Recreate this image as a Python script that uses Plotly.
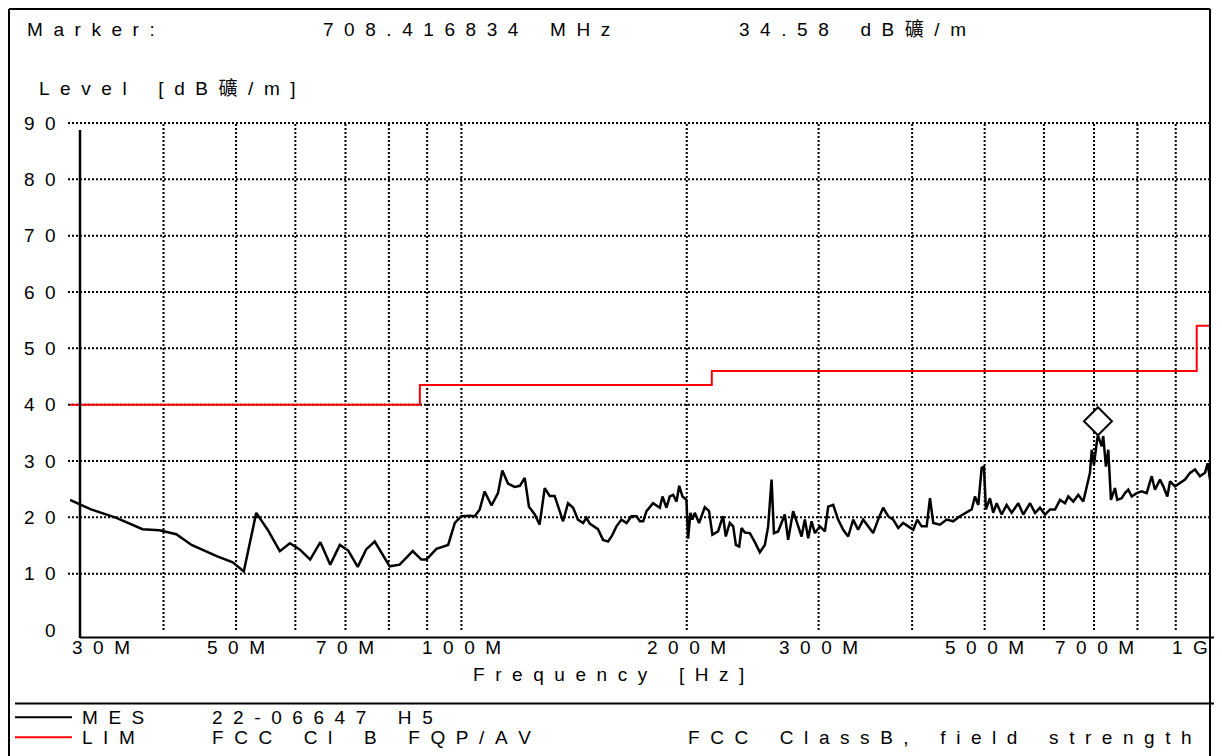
import math
import plotly.graph_objects as go

# ---------------- data ----------------
freq_mhz = [
    30.0, 31.0, 32.0, 34.6, 37.5, 39.5, 41.6, 43.6, 47.1, 49.5, 51.2, 53.2, 55.1, 57.2, 59.0,
    60.8, 62.8, 64.8, 66.8, 68.8, 70.6, 72.7, 74.6, 76.6, 80.2, 82.7, 86.1, 88.4, 89.8, 92.6,
    96.0, 98.0, 100.0,
    102.6, 104.2, 105.8, 107.4, 109.7, 111.9, 113.4, 115.4, 117.8, 119.7, 121.5, 123.1, 125.3,
    127.2, 129.2, 131.2, 133.2, 136.7, 138.8, 141.0, 143.1, 145.4, 146.9, 148.4, 152.2, 154.6,
    157.0, 158.7, 161.1, 163.6, 166.2, 168.7, 171.4, 173.1, 174.9, 176.7, 180.3, 184.1, 185.6,
    187.9, 189.8, 191.8, 193.8, 195.4, 197.4, 199.8, 200.8, 202.3, 203.5, 205.0, 207.7, 211.4,
    214.2, 216.4, 220.2, 223.6, 225.5, 228.3, 230.7, 232.6, 235.0, 236.7, 239.1, 242.8, 246.6,
    250.4, 254.3, 256.9, 259.6, 261.5, 264.9, 270.4, 273.2, 277.4, 281.8, 284.7, 287.6, 290.6,
    293.6, 296.6, 301.2, 305.9, 309.0, 313.8, 318.6,
    323.6, 328.6, 333.7, 338.8, 344.1, 349.4, 354.8, 360.3, 365.9, 371.6, 377.4, 383.3, 389.2,
    395.3, 401.4, 406.4, 411.9, 418.3, 422.6, 426.9, 435.8, 444.9, 453.9, 463.4, 473.0, 480.4,
    485.3, 490.3, 495.4, 498.9, 502.0, 508.2, 513.4, 518.8, 526.8, 535.0, 543.3, 554.5, 563.1,
    574.9, 583.8, 592.8, 602.0, 611.4, 620.9, 630.4, 640.2, 646.7, 656.8, 666.8, 677.2, 684.3,
    691.3, 695.0, 699.8, 705.7, 708.4, 716.6, 720.1, 726.1, 731.3, 737.4, 746.5, 751.8, 762.1,
    769.9, 777.7, 786.0, 798.0, 810.4, 823.0, 835.8, 844.3, 857.4, 866.2, 877.0, 884.4, 898.0,
    912.0, 926.1, 940.4, 955.0, 969.7, 984.7, 992.9, 1000.0,
]
level_dbuv_m = [
    23.1, 22.2, 21.4, 19.9, 17.9, 17.7, 17.0, 15.1, 13.1, 12.0, 10.4, 20.8, 17.8, 14.0, 15.4,
    14.3, 12.5, 15.6, 11.6, 15.1, 14.1, 11.2, 14.3, 15.7, 11.3, 11.6, 14.0, 12.5, 12.5, 14.4,
    15.1, 19.0, 20.2,
    20.3, 20.2, 21.4, 24.6, 22.1, 24.3, 28.3, 26.0, 25.4, 25.6, 27.0, 21.9, 20.5,
    18.7, 25.2, 23.8, 23.8, 19.3, 22.5, 21.7, 19.6, 19.0, 19.9, 18.9, 17.9, 16.0,
    15.7, 16.6, 18.4, 19.6, 19.0, 20.2, 20.2, 19.3, 19.3, 21.1, 22.5, 21.7, 23.7,
    21.7, 23.7, 24.0, 22.8, 25.6, 23.7, 23.1, 16.2, 20.8, 19.6, 20.8, 19.0, 21.8,
    21.1, 16.9, 17.5, 20.2, 16.6, 19.0, 18.4, 15.1, 14.8, 18.1, 17.3, 17.2, 15.6,
    13.8, 15.1, 18.4, 26.7, 17.2, 17.5, 20.5, 16.0, 21.1, 18.4, 16.6, 19.6, 16.3,
    19.3, 17.2, 18.4, 17.5, 21.9, 22.2, 19.6,
    17.8, 16.6, 19.6, 17.8, 19.6, 18.4, 17.2, 19.6, 21.7, 20.2, 19.6, 18.1, 19.0,
    18.4, 17.8, 19.6, 18.4, 18.4, 23.4, 19.0, 18.7, 19.6, 19.3, 20.2, 20.8, 21.4,
    23.7, 22.2, 28.8, 29.0, 21.4, 23.4, 20.8, 22.5, 20.5, 22.2, 20.8, 22.5, 20.5,
    22.5, 20.8, 21.7, 20.5, 21.4, 21.4, 23.1, 22.5, 23.7, 22.8, 24.0, 22.8, 25.2,
    27.9, 32.0, 29.3, 33.2, 34.58, 32.6, 34.4, 29.0, 32.0, 23.1, 25.2, 23.1, 23.4,
    24.3, 24.9, 23.7, 24.3, 24.6, 24.3, 27.3, 24.9, 26.7, 25.5, 23.7, 26.4, 25.5,
    26.1, 26.7, 27.9, 28.5, 27.3, 27.9, 29.6, 26.7,
]
limit_freq_mhz = [30, 88, 216, 960, 1000]
limit_level = [40, 43.5, 46, 54, 54]

marker_freq_mhz = 708.416834
marker_level = 34.58

y_tick_vals = [0, 10, 20, 30, 40, 50, 60, 70, 80, 90]
y_grid_vals = [10, 20, 30, 40, 50, 60, 70, 80, 90]
x_tick_vals = [30, 50, 70, 100, 200, 300, 500, 700, 1000]
x_tick_text = ["30M", "50M", "70M", "100M", "200M", "300M", "500M", "700M", "1G"]
x_grid_vals = [40, 50, 60, 70, 80, 90, 100, 200, 300, 400, 500, 600, 700, 800, 900]

header_marker = "Marker:"
header_freq = "708.416834 MHz"
header_level = "34.58 dB礦/m"
y_title = "Level [dB礦/m]"
x_title = "Frequency [Hz]"
legend_rows = [("MES", "22-06647 H5", ""),
               ("LIM", "FCC Cl B FQP/AV", "FCC ClassB, field strength")]
legend_colors = ["black", "#ff0000"]

# ---------------- layout geometry (page pixels) ----------------
PAGE_W, PAGE_H = 1222, 756
OFF = 8                      # default body margin of the html page
W, H = PAGE_W - OFF, PAGE_H - OFF
L, R, T, B = 70, 1210, 121, 638   # plot area in page pixels
FONT = "Liberation Sans, Arial, Noto Sans CJK SC, sans-serif"
FS = 19


def px(x):
    return (x - L) / (R - L)


def py(y):
    return (B - y) / (B - T)


def spaced(s):
    gap = "\u00a0\u00a0"
    return gap.join("\u00a0\u00a0" if ch == " " else ch for ch in s)


fig = go.Figure()

fig.add_trace(go.Scatter(x=limit_freq_mhz, y=limit_level, mode="lines",
                         line=dict(color="#ff0000", width=2, shape="hv"),
                         hoverinfo="skip", showlegend=False))
fig.add_trace(go.Scatter(x=freq_mhz, y=level_dbuv_m, mode="lines",
                         line=dict(color="black", width=2.5),
                         showlegend=False))

shapes = []
dot = "2px,2px"
for v in y_grid_vals:
    shapes.append(dict(type="line", xref="paper", yref="y", x0=px(68), x1=1, y0=v, y1=v,
                       line=dict(color="black", width=2, dash=dot), layer="below"))
for v in x_grid_vals:
    shapes.append(dict(type="line", xref="x", yref="y", x0=v, x1=v, y0=0, y1=90,
                       line=dict(color="black", width=2, dash=dot), layer="below"))

# axis lines
shapes.append(dict(type="line", xref="paper", yref="paper", x0=px(80), x1=px(80),
                   y0=py(130), y1=py(638), line=dict(color="black", width=2.5)))
shapes.append(dict(type="line", xref="paper", yref="paper", x0=px(80), x1=px(1222),
                   y0=py(637.5), y1=py(637.5), line=dict(color="black", width=2)))
# frame
shapes.append(dict(type="line", xref="paper", yref="paper", x0=px(9), x1=px(9),
                   y0=py(9), y1=py(756), line=dict(color="black", width=2)))
shapes.append(dict(type="line", xref="paper", yref="paper", x0=px(9), x1=px(1210),
                   y0=py(9), y1=py(9), line=dict(color="black", width=2)))
shapes.append(dict(type="line", xref="paper", yref="paper", x0=px(1210), x1=px(1210),
                   y0=py(9), y1=py(756), line=dict(color="black", width=2)))
# separator above legend
shapes.append(dict(type="line", xref="paper", yref="paper", x0=px(15), x1=px(1222),
                   y0=py(703.5), y1=py(703.5), line=dict(color="black", width=2)))
# legend samples
for i, c in enumerate(legend_colors):
    yy = py(717.3 + 20 * i)
    shapes.append(dict(type="line", xref="paper", yref="paper", x0=px(15), x1=px(72),
                       y0=yy, y1=yy, line=dict(color=c, width=2)))

# marker diamond sitting on the marker point
shapes.append(dict(type="path", xref="x", yref="y", xsizemode="pixel", ysizemode="pixel",
                   xanchor=marker_freq_mhz, yanchor=marker_level,
                   path="M 0,0 L 14,14 L 0,28 L -14,14 Z",
                   line=dict(color="black", width=2), fillcolor="white"))

ann = []
tf = dict(family=FONT, size=FS, color="black")
for v, t in zip(x_tick_vals, x_tick_text):
    anchor = "center"
    if v == x_tick_vals[0]:
        anchor = "left"
    elif v == x_tick_vals[-1]:
        anchor = "right"
    ann.append(dict(x=math.log10(v), xref="x", y=py(647), yref="paper", text=spaced(t),
                    showarrow=False, xanchor=anchor, yanchor="middle", font=tf))
for v in y_tick_vals:
    ann.append(dict(x=px(58), xref="paper", y=v, yref="y", text=spaced(str(v)),
                    showarrow=False, xanchor="right", yanchor="middle", font=tf))

ann.append(dict(x=px(25), xref="paper", y=py(30), yref="paper", text=spaced(header_marker),
                showarrow=False, xanchor="left", yanchor="middle", font=tf))
ann.append(dict(x=px(321), xref="paper", y=py(30), yref="paper", text=spaced(header_freq),
                showarrow=False, xanchor="left", yanchor="middle", font=tf))
ann.append(dict(x=px(737), xref="paper", y=py(30), yref="paper", text=spaced(header_level),
                showarrow=False, xanchor="left", yanchor="middle", font=tf))
ann.append(dict(x=px(37), xref="paper", y=py(88), yref="paper", text=spaced(y_title),
                showarrow=False, xanchor="left", yanchor="middle", font=tf))
ann.append(dict(x=px(608), xref="paper", y=py(674), yref="paper", text=spaced(x_title),
                showarrow=False, xanchor="center", yanchor="middle", font=tf))
for i, (name, desc, extra) in enumerate(legend_rows):
    yy = py(717.5 + 20 * i)
    ann.append(dict(x=px(80), xref="paper", y=yy, yref="paper", text=spaced(name),
                    showarrow=False, xanchor="left", yanchor="middle", font=tf))
    ann.append(dict(x=px(210), xref="paper", y=yy, yref="paper", text=spaced(desc),
                    showarrow=False, xanchor="left", yanchor="middle", font=tf))
    if extra:
        ann.append(dict(x=px(686), xref="paper", y=yy, yref="paper", text=spaced(extra),
                        showarrow=False, xanchor="left", yanchor="middle", font=tf))

fig.update_layout(
    width=W, height=H,
    margin=dict(l=L - OFF, r=PAGE_W - R, t=T - OFF, b=PAGE_H - B, pad=0),
    paper_bgcolor="white", plot_bgcolor="white",
    showlegend=False,
    xaxis=dict(type="log", range=[math.log10(30), 3], showgrid=False, zeroline=False,
               showline=False, showticklabels=False, ticks=""),
    yaxis=dict(range=[-1.42, 90.36], showgrid=False, zeroline=False, showline=False,
               showticklabels=False, ticks=""),
    shapes=shapes, annotations=ann,
)

fig.write_html("out.html")
